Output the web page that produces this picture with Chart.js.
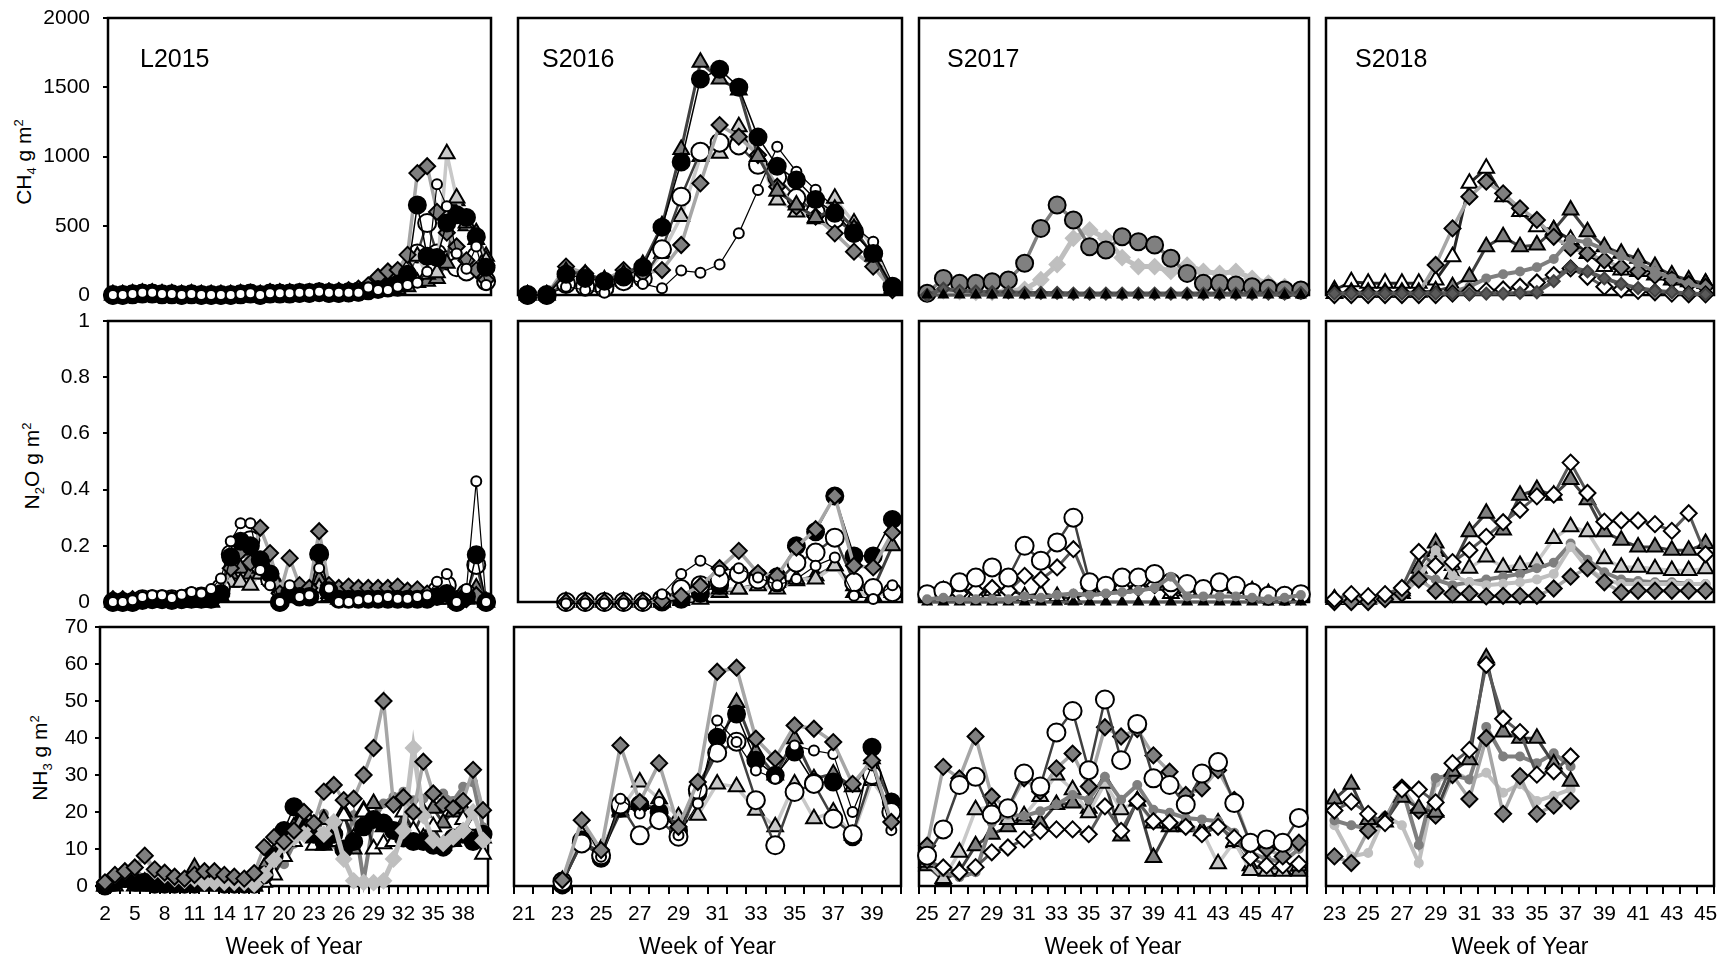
<!DOCTYPE html>
<html>
<head>
<meta charset="utf-8">
<script src="https://cdn.jsdelivr.net/npm/chart.js@4.4.1/dist/chart.umd.min.js"></script>
<style>
  html, body { margin: 0; padding: 0; background: #fff; }
  #fig { position: relative; width: 1732px; height: 962px; overflow: hidden;
         font-family: "Liberation Sans", Arial, sans-serif; color: #000; }
  #fig canvas { position: absolute; }
  .ylab { position: absolute; font-size: 21px; line-height: 1; white-space: nowrap;
          transform: translate(-50%, -50%) rotate(-90deg); }
  .ylab sub, .ylab sup { font-size: 13px; line-height: 0; }
  .tag { position: absolute; font-size: 25px; line-height: 1; }
</style>
</head>
<body>
<div id="fig">
  <div class="ylab" style="left:23px;top:162px">CH<sub>4</sub> g m<sup>2</sup></div>
  <div class="ylab" style="left:31px;top:466px">N<sub>2</sub>O g m<sup>2</sup></div>
  <div class="ylab" style="left:39px;top:758px">NH<sub>3</sub> g m<sup>2</sup></div>
</div>
<script>
// week categories per season
const wk2015 = [2,3,4,5,6,7,8,9,10,11,12,13,14,15,16,17,18,19,20,21,22,23,24,25,26,27,28,29,30,31,32,33,34,35,36,37,38,39,40];
const wk2016 = [21,22,23,24,25,26,27,28,29,30,31,32,33,34,35,36,37,38,39,40];
const wk2017 = [25,26,27,28,29,30,31,32,33,34,35,36,37,38,39,40,41,42,43,44,45,46,47,48];
const wk2018 = [23,24,25,26,27,28,29,30,31,32,33,34,35,36,37,38,39,40,41,42,43,44,45];

// labelled ticks
const tick2015 = [2,5,8,11,14,17,20,23,26,29,32,35,38];
const tick2016 = [21,23,25,27,29,31,33,35,37,39];
const tick2017 = [25,27,29,31,33,35,37,39,41,43,45,47];
const tick2018 = [23,25,27,29,31,33,35,37,39,41,43,45];

// ---- CH4 ----
const ch4_2015_A = [0,0,5,10,10,5,5,0,5,0,0,0,0,5,10,0,10,10,10,15,15,20,15,15,15,20,30,40,50,80,150,650,280,270,520,580,560,420,200];
const ch4_2015_B = [0,0,5,10,10,5,5,0,5,0,0,0,0,5,10,0,10,10,10,15,15,20,15,15,20,25,40,50,60,60,120,300,520,300,250,200,170,280,100];
const ch4_2015_C = [0,0,7,17,17,7,7,0,7,0,0,0,0,7,12,0,12,12,12,17,17,24,17,17,17,17,55,36,36,60,72,89,168,800,640,300,190,350,72];
const ch4_2015_D = [5,5,10,15,15,10,10,5,10,5,5,5,5,10,10,5,15,15,15,20,20,25,25,30,35,45,70,130,170,180,290,880,930,600,450,350,250,180,110];
const ch4_2015_E = [0,0,5,10,10,5,5,0,5,0,0,0,0,5,5,0,10,10,10,10,10,15,15,15,15,20,30,40,50,60,200,280,150,160,1020,700,520,400,250];
const ch4_2015_F = [0,0,5,10,10,5,5,0,5,0,0,0,0,5,5,0,10,10,10,10,10,15,15,15,15,20,25,30,35,40,60,90,100,120,230,680,500,450,280];

const ch4_2016_A = [0,0,150,120,100,130,200,490,960,1560,1630,1500,1140,930,830,690,590,445,300,60];
const ch4_2016_B = [0,0,80,60,50,100,120,330,710,1035,1100,1080,940,850,700,600,550,450,300,60];
const ch4_2016_C = [0,0,60,36,17,132,80,48,176,161,221,445,758,1071,890,760,626,493,385,84];
const ch4_2016_D = [0,0,205,156,108,180,156,180,361,806,1227,1143,1011,782,638,566,445,313,205,36];
const ch4_2016_E = [0,0,100,80,60,100,130,300,566,1000,1023,1215,1000,686,600,550,698,520,350,50];
const ch4_2016_F = [0,0,170,150,110,150,220,500,1050,1680,1560,1480,1000,750,650,560,620,480,280,40];

const ch4_2017_L = [12,120,84,84,96,108,229,481,650,542,349,325,421,385,361,265,156,84,84,72,60,48,36,36];
const ch4_2017_K = [5,30,25,20,20,30,40,110,220,410,470,410,270,205,205,170,215,170,155,170,120,85,60,40];
const ch4_2017_N = [0,45,30,25,20,20,15,15,15,10,10,10,10,10,10,10,10,10,10,10,10,10,10,15];
const ch4_2017_M = [0,0,0,0,0,0,0,0,0,0,0,0,0,0,0,0,0,0,0,0,0,0,0,0];

const ch4_2018_G = [36,96,84,84,84,84,108,277,806,915,710,602,493,469,400,300,205,180,170,145,108,96,84];
const ch4_2018_F = [10,20,20,20,20,20,30,60,132,349,421,349,361,469,614,457,349,301,265,205,144,108,84];
const ch4_2018_D = [12,15,15,15,15,15,217,481,710,818,734,626,542,420,340,300,250,200,170,140,110,80,60];
const ch4_2018_I = [0,5,5,5,5,5,10,20,60,120,150,170,200,260,400,380,330,280,230,170,120,80,50];
const ch4_2018_H = [0,0,0,0,0,0,0,10,20,30,40,60,90,144,192,132,60,40,30,20,10,5,5];
const ch4_2018_N = [10,10,10,10,10,10,10,10,10,10,10,15,20,100,200,170,120,80,50,30,20,10,5];

// ---- N2O ----
const n2o_2015_A = [0,0,0,.005,.01,.01,.005,.01,.01,.01,.01,.03,.16,.216,.2,.15,.1,0,.03,.02,.02,.174,.04,.01,.01,.01,.01,.01,.01,.01,.01,.01,.01,.02,.03,0,.02,.168,0];
const n2o_2015_B = [0,0,0,.01,.01,.01,.01,.01,.02,.02,.02,.05,.17,.19,.22,.13,.08,0,.04,.02,.02,.17,.04,.02,.02,.02,.02,.02,.02,.02,.02,.02,.02,.04,.06,0,.03,.132,0];
const n2o_2015_C = [0,0,.006,.018,.024,.024,.014,.026,.036,.03,.046,.084,.216,.28,.28,.114,.06,0,.06,.018,.024,.12,.048,0,0,.006,.012,.012,.018,.012,.012,.018,.024,.072,.1,0,.046,.43,0];
const n2o_2015_D = [.01,.01,.01,.01,.01,.01,.01,.01,.01,.01,.01,.03,.12,.18,.14,.264,.174,.03,.156,.06,.05,.252,.06,.05,.055,.05,.05,.05,.05,.055,.04,.045,.03,.02,.03,.01,.01,.024,0];
const n2o_2015_E = [0,0,0,0,0,0,0,0,0,0,0,.02,.07,.07,.06,.1,.12,.05,.03,.02,.02,.05,.02,.01,.01,.01,.01,.01,.01,.01,.01,.01,.01,.01,.01,0,.01,.02,0];
const n2o_2015_F = [0,0,0,0,0,0,0,0,0,0,0,.04,.1,.12,.1,.12,.08,.02,.04,.03,.02,.08,.03,.02,.02,.02,.02,.02,.02,.02,.02,.02,.02,.02,.03,0,.02,.05,0];

const n2o_2016_A = [null,null,0,0,0,0,0,0,.01,.03,.06,.1,.09,.09,.2,.25,.377,.164,.164,.294];
const n2o_2016_B = [null,null,0,0,0,0,0,.01,.046,.06,.08,.1,.08,.07,.14,.176,.229,.07,.05,.035];
const n2o_2016_C = [null,null,-.005,-.005,-.005,-.005,-.005,.028,.1,.147,.111,.12,.087,.06,.082,.129,.158,.022,.011,.06];
const n2o_2016_D = [null,null,0,0,0,0,0,.005,.022,.058,.12,.182,.103,.093,.194,.259,.377,.129,.123,.247];
const n2o_2016_E = [null,null,0,0,0,0,0,0,.005,.01,.046,.046,.058,.046,.082,.082,.129,.034,.022,.034];
const n2o_2016_F = [null,null,0,0,0,0,0,0,.01,.017,.034,.046,.064,.07,.076,.093,.129,.058,.046,.2];

const n2o_2017_B = [.028,.04,.07,.087,.123,.087,.2,.147,.212,.3,.07,.058,.087,.087,.1,.07,.064,.046,.07,.058,.034,.022,.022,.028];
const n2o_2017_H = [.02,.03,.03,.04,.05,.04,.093,.08,.123,.188,.05,.04,.05,.05,.06,.04,.03,.04,.06,.05,.03,.02,.02,.02];
const n2o_2017_G = [.02,.04,.05,.03,.04,.05,.02,.03,.02,.01,.04,.05,.05,.06,.06,.03,.04,.04,.06,.05,.04,.03,.02,.02];
const n2o_2017_I = [.01,.015,.01,.01,.01,.01,.02,.015,.025,.03,.025,.03,.035,.04,.05,.09,.02,.02,.02,.02,.015,.01,.015,.025];
const n2o_2017_M = [0,0,0,0,0,0,0,0,0,0,0,0,0,0,0,0,0,0,0,0,0,0,0,0];

const n2o_2018_H = [.01,.028,.02,.028,.05,.178,.13,.142,.184,.232,.284,.328,.376,.382,.496,.388,.286,.29,.29,.277,.253,.316,.17];
const n2o_2018_F = [.01,.01,.015,.02,.04,.12,.21,.13,.25,.316,.256,.38,.4,.38,.436,.364,.25,.22,.196,.196,.184,.184,.208];
const n2o_2018_E = [.01,.01,.01,.02,.03,.08,.18,.1,.12,.16,.124,.13,.142,.226,.268,.25,.154,.124,.124,.118,.112,.112,.118];
const n2o_2018_D = [0,0,0,.01,.03,.08,.04,.028,.03,.02,.022,.022,.022,.048,.09,.12,.07,.034,.04,.04,.04,.04,.04];
const n2o_2018_I = [0,0,0,.005,.02,.1,.08,.06,.07,.08,.09,.1,.12,.14,.208,.15,.106,.08,.075,.07,.07,.065,.064];
const n2o_2018_J = [0,0,0,.005,.02,.09,.184,.094,.07,.06,.065,.07,.08,.1,.196,.12,.08,.064,.064,.064,.064,.064,.064];

// ---- NH3 ----
const nh3_2015_A = [0,1,2,1,1,.5,.5,.5,.5,.5,1,1,.5,.5,.5,.5,3,8,15,21.4,18,14,12,14,10,12,16,18,17,15,13,12,12,11,10.5,13,14,12,14];
const nh3_2015_D = [1,3,4,5,8.2,4.5,3.6,2.5,2,3,4,4,3,2.5,2,3.5,10.5,13.2,12,15,20,17,25.5,27.3,23.2,23.6,30,37.3,50,22,24,20,33.6,25,22,21,23,31.4,20.5];
const nh3_2015_K = [1,3,4,5,8,4,3,2,1.5,2,1,1,1,1,1,.5,3,7,11,13,14,17,14,17.3,7.3,1.4,1,.9,1.4,7.3,15,37.3,19,12.3,11.5,13.2,15,20,12.3];
const nh3_2015_F = [0,2,3,2,1,0,0,0,0,5,3,2,1,1,1,0,5,9,12,16,18,13,18,15,20,10,20.5,22.3,16,12,17,14,20,21,17,20,21,14,13];
const nh3_2015_G = [0,0,1,0,0,0,0,0,0,0,0,0,0,0,0,0,1,3,8,12,14,11,11,12,19,13,20,10,11.4,12,20,15,13,16,11,12,18,16.4,8.6];
const nh3_2015_I = [.5,2.3,3,4.1,2.3,1.4,1,1,1,1,1,1,1,1,1,.9,4.1,6.8,5.9,11.4,15.9,14.5,19.5,11.4,9.5,19.1,1.4,17.7,22.3,24.1,25.5,23.2,23.6,24.5,25,23,26.8,28,15.9];

const nh3_2016_A = [null,null,.3,12.4,7.5,21,22,20,15,25,40.2,46.5,34,29.9,36.2,28,28.1,13.3,37.5,22.7];
const nh3_2016_B = [null,null,1.2,11.5,8.3,22,13.7,17.8,13.3,26,36,39,23.2,11,25.4,27.6,18.2,14,30,20];
const nh3_2016_C = [null,null,2.1,17.8,7.9,23.6,19.6,22.7,13.7,22.3,44.7,38.9,31.2,29,38,36.6,35.7,20,32.6,15.1];
const nh3_2016_D = [null,null,1.6,17.8,9.7,38,22.7,33.2,16,28.1,57.9,59,39.8,34.4,43.4,42.5,38.9,27.6,33.9,17.3];
const nh3_2016_E = [null,null,1.5,14,10,20.5,28.1,23.6,18.7,19.1,27.6,26.8,20.5,16,27.6,18.2,20,13.7,28.5,21];
const nh3_2016_F = [null,null,1,12,9,20,22,21,16,27,36.6,49.6,36.2,30,39.8,29,30.3,26.8,34.4,22.3];

const nh3_2017_B = [8.2,15.3,27.3,29.5,19.3,21,30.4,26.9,41.5,47.3,31.3,50.4,34,43.8,29.1,27.3,22,30.4,33.5,22.4,11.7,12.6,11.7,18.4];
const nh3_2017_D = [10.9,32.2,29.1,40.4,24.2,21,29.1,25.5,31.8,35.8,26.9,42.9,40.4,42.4,35.3,30.9,24.6,26.4,31.3,23.3,11.3,10,8,11.7];
const nh3_2017_H = [7,5,3.7,5.1,9.1,10.4,12.6,14.9,15.3,15.3,14,21.5,14.9,22.9,17.5,17.1,16,14,16,13,7.7,5.5,5.5,6];
const nh3_2017_E = [6.4,2,9.1,20.6,21.5,18,19,24.2,30,26,19.8,27.8,20.6,23,17,17,17,14.9,6,12,4.2,4,4,5.5];
const nh3_2017_F = [5.5,1.5,4,10.9,14,16,18,17,22,22.4,21,28,13.5,23,7.7,16,16,15,17,11.7,5.5,4.5,4.5,4];
const nh3_2017_I = [7.3,3.7,2.4,3.7,17.1,19.3,18.9,20.2,22,24.6,23.3,29.5,23.3,27.3,20.6,19.8,18.4,18,17.5,14.4,9.1,7.3,6.4,10];

const nh3_2018_H = [20.4,22.8,19.5,17,26.1,26.1,22.6,33.2,36.8,59.8,45.2,41.6,30.1,31,35,null,null,null,null,null,null,null,null];
const nh3_2018_F = [23.5,27.5,18,17.3,24,21,19.9,31,34.1,61.6,41.6,39.9,39.9,33,28.3,null,null,null,null,null,null,null,null];
const nh3_2018_D = [8,6.2,15,18,26.6,20.4,19,30,23.5,40,19.5,29.7,19.5,21.7,23,null,null,null,null,null,null,null,null];
const nh3_2018_I = [17.7,16.4,15.5,18,26.6,11.1,29.2,30,28.8,43,35,35,33.2,35.9,32.3,null,null,null,null,null,null,null,null];
const nh3_2018_J = [16.4,8,8.9,19,16.4,6.2,27.9,31,28.8,30.6,25.2,27.5,23,24.4,26.1,null,null,null,null,null,null,null,null];

// marker / line looks for each treatment key
const looks = {
  A: { shape: 'circle',   r: 8.5, fill: '#000000', edge: '#000000', line: '#000000', lw: 1.5 },
  B: { shape: 'circle',   r: 9,   fill: '#ffffff', edge: '#000000', line: '#404040', lw: 2.5 },
  C: { shape: 'circle',   r: 5,   fill: '#ffffff', edge: '#000000', line: '#000000', lw: 1.2 },
  D: { shape: 'rectRot',  r: 8,   fill: '#7f7f7f', edge: '#000000', line: '#a6a6a6', lw: 3.5 },
  E: { shape: 'triangle', r: 9,   fill: '#c8c8c8', edge: '#000000', line: '#c8c8c8', lw: 3.5 },
  F: { shape: 'triangle', r: 9,   fill: '#7f7f7f', edge: '#000000', line: '#404040', lw: 3 },
  G: { shape: 'triangle', r: 9,   fill: '#ffffff', edge: '#000000', line: '#262626', lw: 3 },
  H: { shape: 'rectRot',  r: 8,   fill: '#ffffff', edge: '#000000', line: '#595959', lw: 3 },
  I: { shape: 'circle',   r: 4,   fill: '#7f7f7f', edge: '#7f7f7f', line: '#7f7f7f', lw: 4 },
  J: { shape: 'circle',   r: 4,   fill: '#bfbfbf', edge: '#bfbfbf', line: '#bfbfbf', lw: 4 },
  K: { shape: 'rectRot',  r: 7.5, fill: '#bfbfbf', edge: '#bfbfbf', line: '#bfbfbf', lw: 5 },
  L: { shape: 'circle',   r: 8.5, fill: '#808080', edge: '#000000', line: '#808080', lw: 3.5 },
  M: { shape: 'triangle', r: 5,   fill: '#000000', edge: '#000000', line: '#595959', lw: 3 },
  N: { shape: 'rectRot',  r: 6,   fill: '#595959', edge: '#404040', line: '#595959', lw: 4 }
};

const panels = [
  { row: 0, col: 0, weeks: wk2015, shown: tick2015, tag: 'L2015',
    series: [['C', ch4_2015_C], ['A', ch4_2015_A], ['D', ch4_2015_D], ['E', ch4_2015_E], ['F', ch4_2015_F], ['B', ch4_2015_B]] },
  { row: 0, col: 1, weeks: wk2016, shown: tick2016, tag: 'S2016',
    series: [['A', ch4_2016_A], ['F', ch4_2016_F], ['C', ch4_2016_C], ['D', ch4_2016_D], ['B', ch4_2016_B], ['E', ch4_2016_E]] },
  { row: 0, col: 2, weeks: wk2017, shown: tick2017, tag: 'S2017',
    series: [['M', ch4_2017_M], ['N', ch4_2017_N], ['L', ch4_2017_L], ['K', ch4_2017_K]] },
  { row: 0, col: 3, weeks: wk2018, shown: tick2018, tag: 'S2018',
    series: [['N', ch4_2018_N], ['H', ch4_2018_H], ['I', ch4_2018_I], ['D', ch4_2018_D], ['F', ch4_2018_F], ['G', ch4_2018_G]] },

  { row: 1, col: 0, weeks: wk2015, shown: tick2015,
    series: [['C', n2o_2015_C], ['A', n2o_2015_A], ['D', n2o_2015_D], ['B', n2o_2015_B], ['E', n2o_2015_E], ['F', n2o_2015_F]] },
  { row: 1, col: 1, weeks: wk2016, shown: tick2016,
    series: [['C', n2o_2016_C], ['D', n2o_2016_D], ['B', n2o_2016_B], ['A', n2o_2016_A], ['E', n2o_2016_E], ['F', n2o_2016_F]] },
  { row: 1, col: 2, weeks: wk2017, shown: tick2017,
    series: [['I', n2o_2017_I], ['M', n2o_2017_M], ['B', n2o_2017_B], ['H', n2o_2017_H], ['G', n2o_2017_G]] },
  { row: 1, col: 3, weeks: wk2018, shown: tick2018,
    series: [['H', n2o_2018_H], ['D', n2o_2018_D], ['J', n2o_2018_J], ['I', n2o_2018_I], ['E', n2o_2018_E], ['F', n2o_2018_F]] },

  { row: 2, col: 0, weeks: wk2015, shown: tick2015,
    series: [['D', nh3_2015_D], ['K', nh3_2015_K], ['A', nh3_2015_A], ['G', nh3_2015_G], ['F', nh3_2015_F], ['I', nh3_2015_I]] },
  { row: 2, col: 1, weeks: wk2016, shown: tick2016,
    series: [['D', nh3_2016_D], ['C', nh3_2016_C], ['B', nh3_2016_B], ['A', nh3_2016_A], ['F', nh3_2016_F], ['E', nh3_2016_E]] },
  { row: 2, col: 2, weeks: wk2017, shown: tick2017,
    series: [['B', nh3_2017_B], ['D', nh3_2017_D], ['H', nh3_2017_H], ['I', nh3_2017_I], ['E', nh3_2017_E], ['F', nh3_2017_F]] },
  { row: 2, col: 3, weeks: wk2018, shown: tick2018,
    series: [['H', nh3_2018_H], ['F', nh3_2018_F], ['D', nh3_2018_D], ['I', nh3_2018_I], ['J', nh3_2018_J]] }
];

// panel frames in page pixels
const rowBox = [ { top: 18, bottom: 295 }, { top: 321, bottom: 602 }, { top: 627, bottom: 886 } ];
const colBox = [
  [[108, 491], [518, 902], [919, 1309], [1326, 1714]],
  [[108, 491], [518, 902], [919, 1309], [1326, 1714]],
  [[100, 488], [514, 901], [919, 1307], [1326, 1714]]
];
const yAxes = [
  { min: 0, max: 2000, step: 500, pad: 13 },
  { min: 0, max: 1, step: 0.2, pad: 13 },
  { min: 0, max: 70, step: 10, pad: 7 }
];
const tagOffset = [32, 24, 28, 29];

const family = "'Liberation Sans', Arial, sans-serif";
const tickFont = { family: family, size: 21 };

const framePlugin = {
  id: 'frame',
  beforeDatasetsDraw(chart) {
    const { ctx, chartArea: a } = chart;
    ctx.save();
    ctx.strokeStyle = '#000';
    ctx.lineWidth = 2.5;
    ctx.strokeRect(a.left, a.top, a.right - a.left, a.bottom - a.top);
    ctx.restore();
  }
};

const fig = document.getElementById('fig');

panels.forEach((p) => {
  const [bl, br] = colBox[p.row][p.col];
  const bt = rowBox[p.row].top;
  const bb = rowBox[p.row].bottom;
  const padL = p.col === 0 ? bl : 24;
  const padR = 24;
  const padT = 16;
  const padB = p.row === 2 ? 962 - bb : 16;
  const showY = p.col === 0;
  const showX = p.row === 2;
  const ya = yAxes[p.row];

  const cv = document.createElement('canvas');
  cv.width = br - bl + padL + padR;
  cv.height = bb - bt + padT + padB;
  cv.style.left = (bl - padL) + 'px';
  cv.style.top = (bt - padT) + 'px';
  fig.appendChild(cv);

  if (p.tag) {
    const t = document.createElement('div');
    t.className = 'tag';
    t.textContent = p.tag;
    t.style.left = (bl + tagOffset[p.col]) + 'px';
    t.style.top = '46px';
    fig.appendChild(t);
  }

  new Chart(cv, {
    type: 'line',
    data: {
      labels: p.weeks,
      datasets: p.series.map(([key, values]) => {
        const s = looks[key];
        return {
          data: values,
          borderColor: s.line,
          borderWidth: s.lw,
          pointStyle: s.shape,
          pointRadius: s.r,
          pointBackgroundColor: s.fill,
          pointBorderColor: s.edge,
          pointBorderWidth: 2,
          tension: 0,
          fill: false,
          clip: false
        };
      })
    },
    options: {
      responsive: false,
      animation: false,
      events: [],
      layout: { padding: { left: 0, right: padR, top: padT, bottom: 0 } },
      plugins: { legend: { display: false }, tooltip: { enabled: false } },
      scales: {
        x: {
          type: 'category',
          offset: true,
          border: { display: false },
          grid: { display: showX, offset: true, drawOnChartArea: false, drawTicks: true,
                  tickLength: 8, color: '#000', lineWidth: 2 },
          ticks: {
            display: showX, autoSkip: false, maxRotation: 0, minRotation: 0, padding: 8,
            color: '#000', font: tickFont,
            callback(v) {
              const w = this.getLabelForValue(v);
              return p.shown.includes(w) ? String(w) : '';
            }
          },
          title: { display: showX, text: 'Week of Year', color: '#000',
                   font: { family: family, size: 23 }, padding: { top: 0, bottom: 1 } },
          afterFit(s) {
            s.height = padB;
            s.paddingLeft = 0;
            s.paddingRight = 0;
          }
        },
        y: {
          min: ya.min,
          max: ya.max,
          border: { display: false },
          grid: { display: showY, drawOnChartArea: false, drawTicks: true,
                  tickLength: 5, color: '#000', lineWidth: 2 },
          ticks: {
            display: showY, stepSize: ya.step, padding: ya.pad, color: '#000', font: tickFont,
            callback: (v) => String(Math.round(v * 10) / 10)
          },
          afterFit(s) {
            s.width = padL;
            s.paddingTop = 0;
            s.paddingBottom = 0;
          }
        }
      }
    },
    plugins: [framePlugin]
  });
});
</script>
</body>
</html>
